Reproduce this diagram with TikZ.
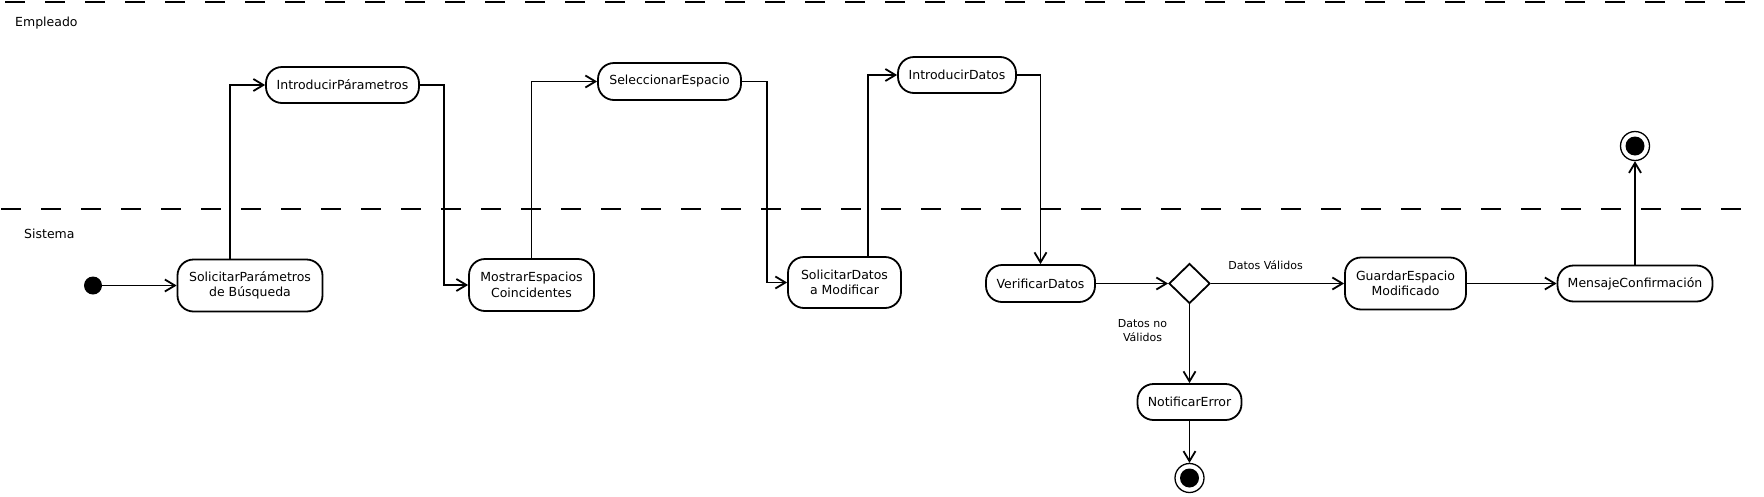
\documentclass[tikz,border=0pt]{standalone}
\usepackage{fontspec}
\setmainfont{DejaVu Sans}
\usetikzlibrary{arrows.meta,shapes.geometric}

\begin{document}
\begin{tikzpicture}[x=1pt,y=-1pt,
  act/.style={draw,line width=1.8pt,rounded corners=16pt,align=center,
    inner xsep=4pt,inner ysep=0pt,font=\fontsize{12.5}{15.5}\selectfont},
  decis/.style={draw,diamond,line width=1.8pt,minimum width=41pt,minimum height=40pt,inner sep=0pt},
  ini/.style={circle,fill,minimum size=18pt,inner sep=0pt},
  fin/.style={circle,draw,line width=1.3pt,minimum size=29pt,inner sep=0pt,
    path picture={\fill (path picture bounding box.center) circle (9.5pt);}},
  flow/.style={line width=1.8pt,-{Straight Barb[length=10pt,width=12pt]}},
  lane/.style={line width=1.8pt,dash pattern=on 20pt off 20pt},
  lanelbl/.style={anchor=west,inner sep=0pt,font=\fontsize{12.5}{15}\selectfont},
  lbl/.style={inner sep=0pt,align=center,font=\fontsize{11}{13.7}\selectfont}]
  \useasboundingbox (0,0) rectangle (1764,496);
  % carriles
  \draw[lane] (5,2) -- (1745,2);
  \draw[lane] (1,209) -- (1741,209);
  \node[lanelbl] (emp) at (15,23) {Empleado};
  \node[lanelbl] (sis) at (24,234) {Sistema};
  % actividades
  \node[ini] (init) at (93,285.5) {};
  \node[act,minimum width=145pt,minimum height=52pt] (solp) at (250,285.5) {SolicitarParámetros\\de Búsqueda};
  \node[act,minimum width=153pt,minimum height=36pt] (intp) at (342.5,85) {IntroducirPárametros};
  \node[act,minimum width=125pt,minimum height=52pt] (mos) at (531.5,285) {MostrarEspacios\\Coincidentes};
  \node[act,minimum width=143pt,minimum height=37pt] (sel) at (669.5,81.5) {SeleccionarEspacio};
  \node[act,minimum width=113pt,minimum height=51pt] (sold) at (844.5,282.5) {SolicitarDatos\\a Modificar};
  \node[act,minimum width=118pt,minimum height=36pt] (intd) at (957,75) {IntroducirDatos};
  \node[act,minimum width=109pt,minimum height=37pt] (ver) at (1040.5,283.5) {VerificarDatos};
  \node[decis] (dec) at (1189.5,283.5) {};
  \node[act,minimum width=121pt,minimum height=52pt] (guard) at (1405.5,283.5) {GuardarEspacio\\Modificado};
  \node[act,minimum width=155pt,minimum height=36pt] (mens) at (1635,283.5) {MensajeConfirmación};
  \node[act,minimum width=104pt,minimum height=36pt] (notif) at (1189.5,402) {NotificarError};
  \node[fin] (fin1) at (1635,146) {};
  \node[fin] (fin2) at (1189.5,478) {};
  % flujos
  \draw[flow] (init) -- (solp.west);
  \draw[flow] ([xshift=-20pt]solp.north) |- (intp.west);
  \draw[flow] (intp.east) -- ++(24,0) |- (mos.west);
  \draw[flow] (mos.north) |- (sel.west);
  \draw[flow] (sel.east) -- ++(25,0) |- (sold.west);
  \draw[flow] ([xshift=23.5pt]sold.north) |- (intd.west);
  \draw[flow] (intd.east) -| (ver.north);
  \draw[flow] (ver.east) -- (dec.west);
  \draw[flow] (dec.east) -- node[lbl,pos=.41,above=12.5pt] {Datos Válidos} (guard.west);
  \draw[flow] (guard.east) -- (mens.west);
  \draw[flow] (mens.north) -- (fin1.south);
  \draw[flow] (dec.south) -- node[lbl,pos=.33,left=21.5pt] {Datos no\\Válidos} (notif.north);
  \draw[flow] (notif.south) -- (fin2.north);
\end{tikzpicture}
\end{document}
